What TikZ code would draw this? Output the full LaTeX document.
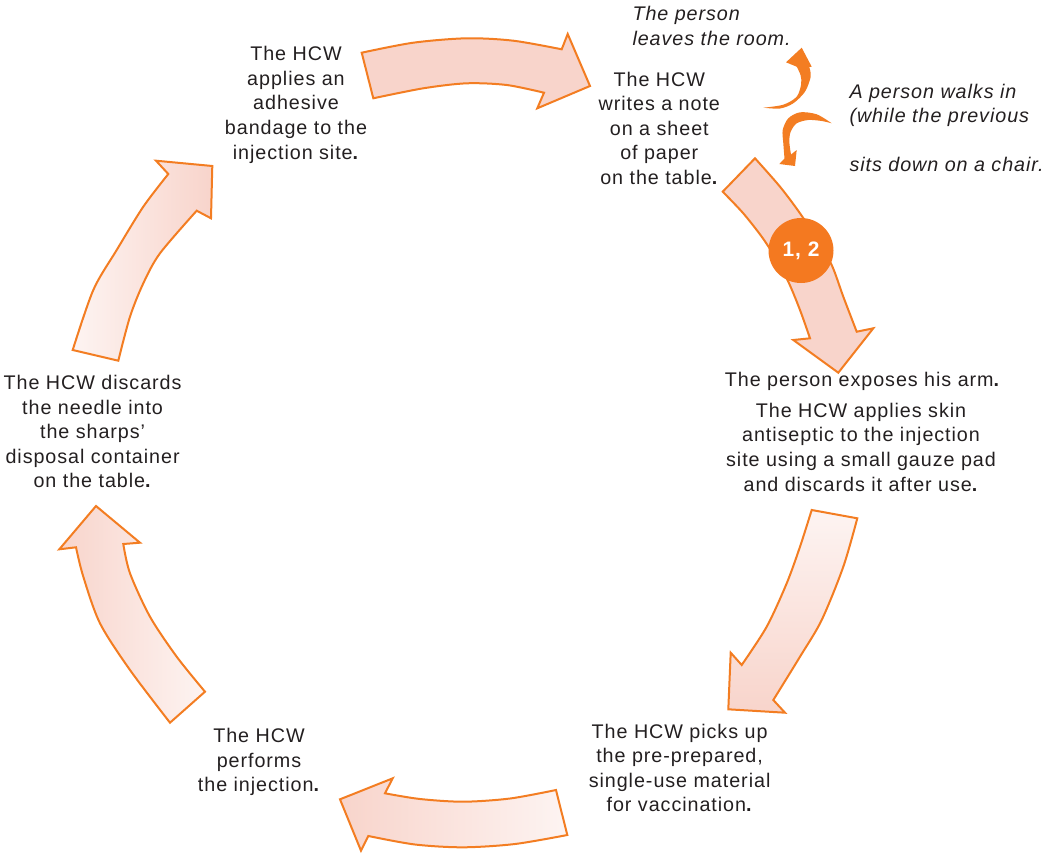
\documentclass[tikz,border=0pt]{standalone}
\usepackage{fontspec}
\setmainfont{Liberation Sans}[LetterSpace=4.8]
\definecolor{txt}{HTML}{231F20}
\definecolor{arrline}{HTML}{F37D22}
\definecolor{arrfill}{HTML}{F8D4CB}
\definecolor{arrlight}{HTML}{FDF4F2}
\definecolor{badgecol}{HTML}{F47920}
\newcommand\boldstop{\textbf{.}}
\begin{document}
\begin{tikzpicture}[x=1bp,y=-1bp,
  lbl/.style={font=\fontsize{19.8}{24.6}\selectfont, text=txt, align=center, inner sep=0pt, anchor=base},
  note/.style={font=\fontsize{19.8}{24.6}\selectfont\itshape, text=txt, align=left, inner sep=0pt, anchor=base west},
  bigarrow/.style={draw=arrline, line width=2bp, line join=miter, fill=arrfill},
  smallarrow/.style={fill=arrline, draw=none}]
\useasboundingbox (0,0) rectangle (1045,854);

% ---- big arrows ----
% top
\draw[bigarrow] plot[smooth] coordinates {(361.7,52.7) (413.3,42.7) (466.7,38.3) (513.3,40.7) (561.7,49.3)}
  -- (567.7,34) -- (590,86) -- (537.3,108.3) -- (544,92.7)
  -- plot[smooth] coordinates {(544,92.7) (506.7,85) (466.7,83.3) (423.3,88.3) (373.3,98.3)} -- cycle;
% top right
\draw[bigarrow] plot[smooth] coordinates {(755,158.3) (780,186.7) (800,213.3) (816,238) (831.7,265) (843.3,296.7) (856.7,331.7)}
  -- (873.3,328.3) -- (838.3,372.7) -- (793.3,340) -- (810,338.3)
  -- plot[smooth] coordinates {(810,338.3) (800,310) (788.3,281.7) (775,257) (761.7,236.7) (743,213) (722.7,191.7)} -- cycle;
% right bottom
\draw[bigarrow, top color=arrlight, bottom color=arrfill] plot[smooth] coordinates {(857.3,518.3) (843.3,566.7) (821.7,620) (800,656.7) (773.3,700)}
  -- (785,712.7) -- (728.3,709.3) -- (730.7,652.7) -- (741.7,665)
  -- plot[smooth] coordinates {(741.7,665) (766.7,626.7) (786.7,583.3) (800,546.7) (811.7,510)} -- cycle;
% bottom
\draw[bigarrow, left color=arrfill, right color=arrlight] plot[smooth] coordinates {(556,790) (510,798.5) (463.3,801.7) (420,799) (385,793.3)}
  -- (392.7,778.3) -- (340,799.3) -- (361,850.7) -- (368.3,836)
  -- plot[smooth] coordinates {(368.3,836) (415,844.5) (463.3,847.3) (515,844) (567.3,835)} -- cycle;
% left bottom
\draw[bigarrow, left color=arrfill, right color=arrlight] plot[smooth] coordinates {(205,691.7) (176.7,656.7) (150,616.7) (130,573.3) (123.3,544)}
  -- (140,542.7) -- (96,506) -- (59.3,549.3) -- (76,547.3)
  -- plot[smooth] coordinates {(76,547.3) (83.3,576.7) (100,623.3) (130,670) (170,722.7)} -- cycle;
% left top
\draw[bigarrow, left color=arrlight, right color=arrfill] plot[smooth] coordinates {(72.7,350) (93.3,290) (116.7,250) (143.3,206.7) (168.3,174)}
  -- (156,160.7) -- (212.3,166) -- (211,218.3) -- (196.7,210.7)
  -- plot[smooth] coordinates {(196.7,210.7) (160,253.3) (143.3,283.3) (130,316.7) (118.3,360.7)} -- cycle;

% ---- badge ----
\node[circle, fill=badgecol, minimum size=65bp, inner sep=0pt, text=white,
  font=\bfseries\fontsize{21}{22}\selectfont] (badge) at (801,250.5) {1, 2};

% ---- small arrows ----
\draw[smallarrow] plot[smooth] coordinates {(763.3,107.7) (780,108.5) (793.3,103.3) (805,91.7) (810.7,76.7) (809.3,67)}
  -- (811.7,66.7) -- (801.7,47.7) -- (786,62.3) -- (796.7,66.7)
  -- plot[smooth] coordinates {(796.7,66.7) (800.5,75) (801.2,84) (796.7,96.7) (783.3,104.7) (763.3,107.7)} -- cycle;
\draw[smallarrow] plot[smooth] coordinates {(831.7,123.3) (816.7,114.3) (800,112.3) (788.3,118.3) (782.7,130) (783.3,143.3) (784.5,158.5)}
  -- (779.3,164) -- (795,166) -- (796.7,150) -- (791,154.5)
  -- plot[smooth] coordinates {(791,154.5) (789.3,141.7) (790.7,131.7) (796.7,123.3) (808.3,120) (821.7,121) (831.7,123.3)} -- cycle;

% ---- texts (base anchor = baseline of the last line) ----
\node[lbl] (n1) at (296,159) {The HCW\\applies an\\adhesive\\bandage to the\\injection site\boldstop};
\node[lbl] (n2) at (659.3,184.3) {The HCW\\writes a note\\on a sheet\\of paper\\on the table\boldstop};
\node[lbl] (n3a) at (862.5,386.7) {The person exposes his arm\boldstop};
\node[lbl] (n3b) at (861,491) {The HCW applies skin\\antiseptic to the injection\\site using a small gauze pad\\and discards it after use\boldstop};
\node[lbl] (n4) at (679.6,811.7) {The HCW picks up\\the pre-prepared,\\single-use material\\for vaccination\boldstop};
\node[lbl] (n5) at (259,791.7) {The HCW\\performs\\the injection\boldstop};
\node[lbl] (n6) at (92.6,487.7) {The HCW discards\\the needle into\\the sharps’\\disposal container\\on the table\boldstop};

\node[note] (p1) at (632.3,45) {The person\\leaves the room.};
\node[note] (p2) at (849.3,171.7) {A person walks in\\(while the previous\\[24.6bp]sits down on a chair.};
\end{tikzpicture}
\end{document}
